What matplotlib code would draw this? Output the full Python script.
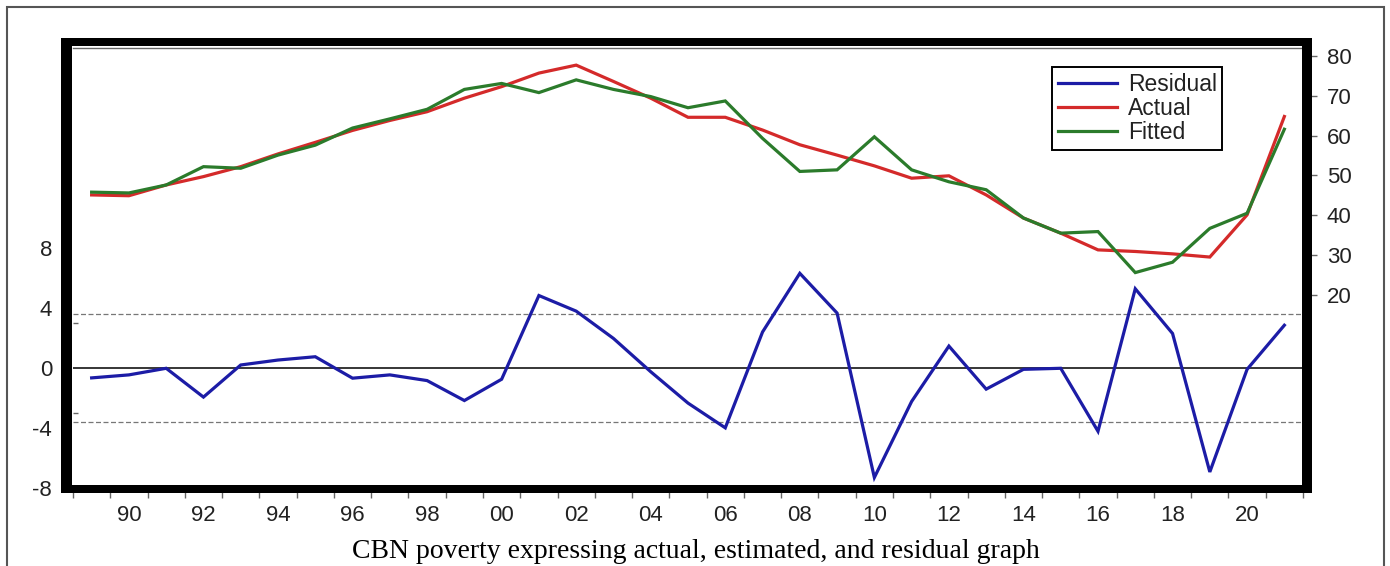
import matplotlib
matplotlib.use("Agg")
import matplotlib.pyplot as plt
from matplotlib.patches import Rectangle
import numpy as np

# ---- data -------------------------------------------------------------
years = list(range(1989, 2022))

actual = [45.1, 44.9, 47.6, 49.7, 52.2, 55.4, 58.3, 61.3, 63.8, 66.0,
          69.4, 72.3, 75.7, 77.7, 73.6, 69.4, 64.6, 64.6, 61.4, 57.7,
          55.1, 52.4, 49.3, 49.9, 45.1, 39.3, 35.5, 31.3, 30.9, 30.3,
          29.5, 40.1, 64.8]

fitted = [45.8, 45.6, 47.6, 52.2, 51.8, 55.1, 57.6, 61.9, 64.2, 66.6,
          71.6, 73.1, 70.8, 74.0, 71.6, 69.8, 67.0, 68.7, 59.3, 51.0,
          51.4, 59.7, 51.4, 48.4, 46.4, 39.3, 35.5, 35.9, 25.6, 28.2,
          36.7, 40.5, 61.6]

residual = [-0.66, -0.46, -0.02, -1.94, 0.20, 0.53, 0.75, -0.68, -0.46, -0.84,
            -2.17, -0.75, 4.83, 3.79, 1.97, -0.25, -2.34, -3.99, 2.40, 6.31,
            3.66, -7.30, -2.23, 1.46, -1.41, -0.09, -0.02, -4.22, 5.28, 2.30,
            -6.93, -0.09, 2.85]

resid_se = 3.6  # +/- one standard error band

label_years = list(range(1990, 2021, 2))
year_labels = ["90", "92", "94", "96", "98", "00", "02", "04", "06", "08",
               "10", "12", "14", "16", "18", "20"]
left_ticks = [-8, -4, 0, 4, 8]
right_ticks = [20, 30, 40, 50, 60, 70, 80]

series_names = ["Residual", "Actual", "Fitted"]
c_resid, c_actual, c_fitted = "#1c1ca6", "#d42a2a", "#2b7b2b"

# ---- layout helpers (pixel -> figure fraction) --------------------------
W, H = 1390, 566
plt.rcParams["font.family"] = ["Liberation Sans", "DejaVu Sans"]
plt.rcParams["axes.unicode_minus"] = False
fig = plt.figure(figsize=(W / 100, H / 100), dpi=100)


def fx(px):
    return px / W


def fy(py):
    return 1 - py / H


ax_l, ax_r, ax_t, ax_b = 73, 1303, 48, 488
ax = fig.add_axes([fx(ax_l), fy(ax_b), (ax_r - ax_l) / W, (ax_b - ax_t) / H])
ax2 = ax.twinx()

# ---- residual panel (left scale) ---------------------------------------
ax.axhline(0, color="black", lw=1.1, zorder=2)
for s in (resid_se, -resid_se):
    ax.axhline(s, color="#777777", lw=0.9, linestyle=(0, (4, 2)), zorder=2)
l_res, = ax.plot(years, residual, color=c_resid, lw=2.3, zorder=3,
                 solid_joinstyle="miter")

# ---- actual / fitted (right scale) -------------------------------------
l_act, = ax2.plot(years, actual, color=c_actual, lw=2.3, solid_joinstyle="miter")
l_fit, = ax2.plot(years, fitted, color=c_fitted, lw=2.3, solid_joinstyle="miter")

ax.set_xlim(1988.5, 2021.5)
ax.set_ylim(-8, 21.33)
ax2.set_ylim(-28.5, 82.0)

tick_fs = 16

# x axis: tick marks at year boundaries, labels centred on even years
bounds = np.arange(1988.5, 2022, 1.0)
ax.set_xticks(bounds, labels=[""] * len(bounds))
ax.set_xticks(label_years, labels=year_labels, minor=True)
ax.tick_params(axis="x", which="major", direction="out", length=7.2,
               width=1, color="#666666")
ax.tick_params(axis="x", which="minor", length=0, pad=12.5, labelsize=tick_fs,
               labelcolor="#222222")

# left y axis
ax.set_yticks(left_ticks)
ax.set_yticks([-3, 3], minor=True)
ax.tick_params(axis="y", which="major", length=0, pad=15, labelsize=tick_fs,
               labelcolor="#222222")
ax.tick_params(axis="y", which="minor", direction="in", length=3.6,
               width=1, color="#666666")

# right y axis
ax2.set_yticks(right_ticks)
ax2.tick_params(axis="y", direction="out", length=10, width=1,
                color="#666666", pad=7, labelsize=tick_fs, labelcolor="#222222")

for a in (ax, ax2):
    for side in ("left", "right", "bottom"):
        a.spines[side].set_visible(False)
ax2.spines["top"].set_visible(False)
ax.spines["top"].set_color("#666666")
ax.spines["top"].set_linewidth(1.0)

# ---- heavy black frame around the plot area ----------------------------
fx0, fx1, fy0, fy1 = 61, 1312, 38, 493
bars = [
    (fx0, fy0, 72, fy1),        # left
    (1302, fy0, fx1, fy1),      # right
    (fx0, fy0, fx1, 46),        # top
    (fx0, 485, fx1, fy1),       # bottom
]
for x0, y0, x1, y1 in bars:
    fig.add_artist(Rectangle((fx(x0), fy(y1)), (x1 - x0) / W, (y1 - y0) / H,
                             transform=fig.transFigure, facecolor="black",
                             edgecolor="none", zorder=5))

# outer border of the figure panel
fig.add_artist(Rectangle((fx(7), fy(620)), (1384 - 7) / W, (620 - 7) / H,
                         transform=fig.transFigure, fill=False,
                         edgecolor="#555555", lw=1.5, zorder=6))

# ---- legend -------------------------------------------------------------
leg = ax2.legend([l_res, l_act, l_fit], series_names, loc="upper left",
                 bbox_to_anchor=(fx(1052), fy(67)), bbox_transform=fig.transFigure,
                 fontsize=16.5, frameon=True, fancybox=False, framealpha=1,
                 edgecolor="black", borderpad=0.25, labelspacing=0.06,
                 handlelength=2.6, handletextpad=0.45, borderaxespad=0)
leg.get_frame().set_linewidth(1.4)
for t in leg.get_texts():
    t.set_color("#222222")

# ---- caption ------------------------------------------------------------
fig.text(fx(696), fy(551), "CBN poverty expressing actual, estimated, and residual graph",
         ha="center", va="center", family=["Liberation Serif", "DejaVu Serif"],
         fontsize=20, color="black")

fig.savefig("out.png", dpi=100)
